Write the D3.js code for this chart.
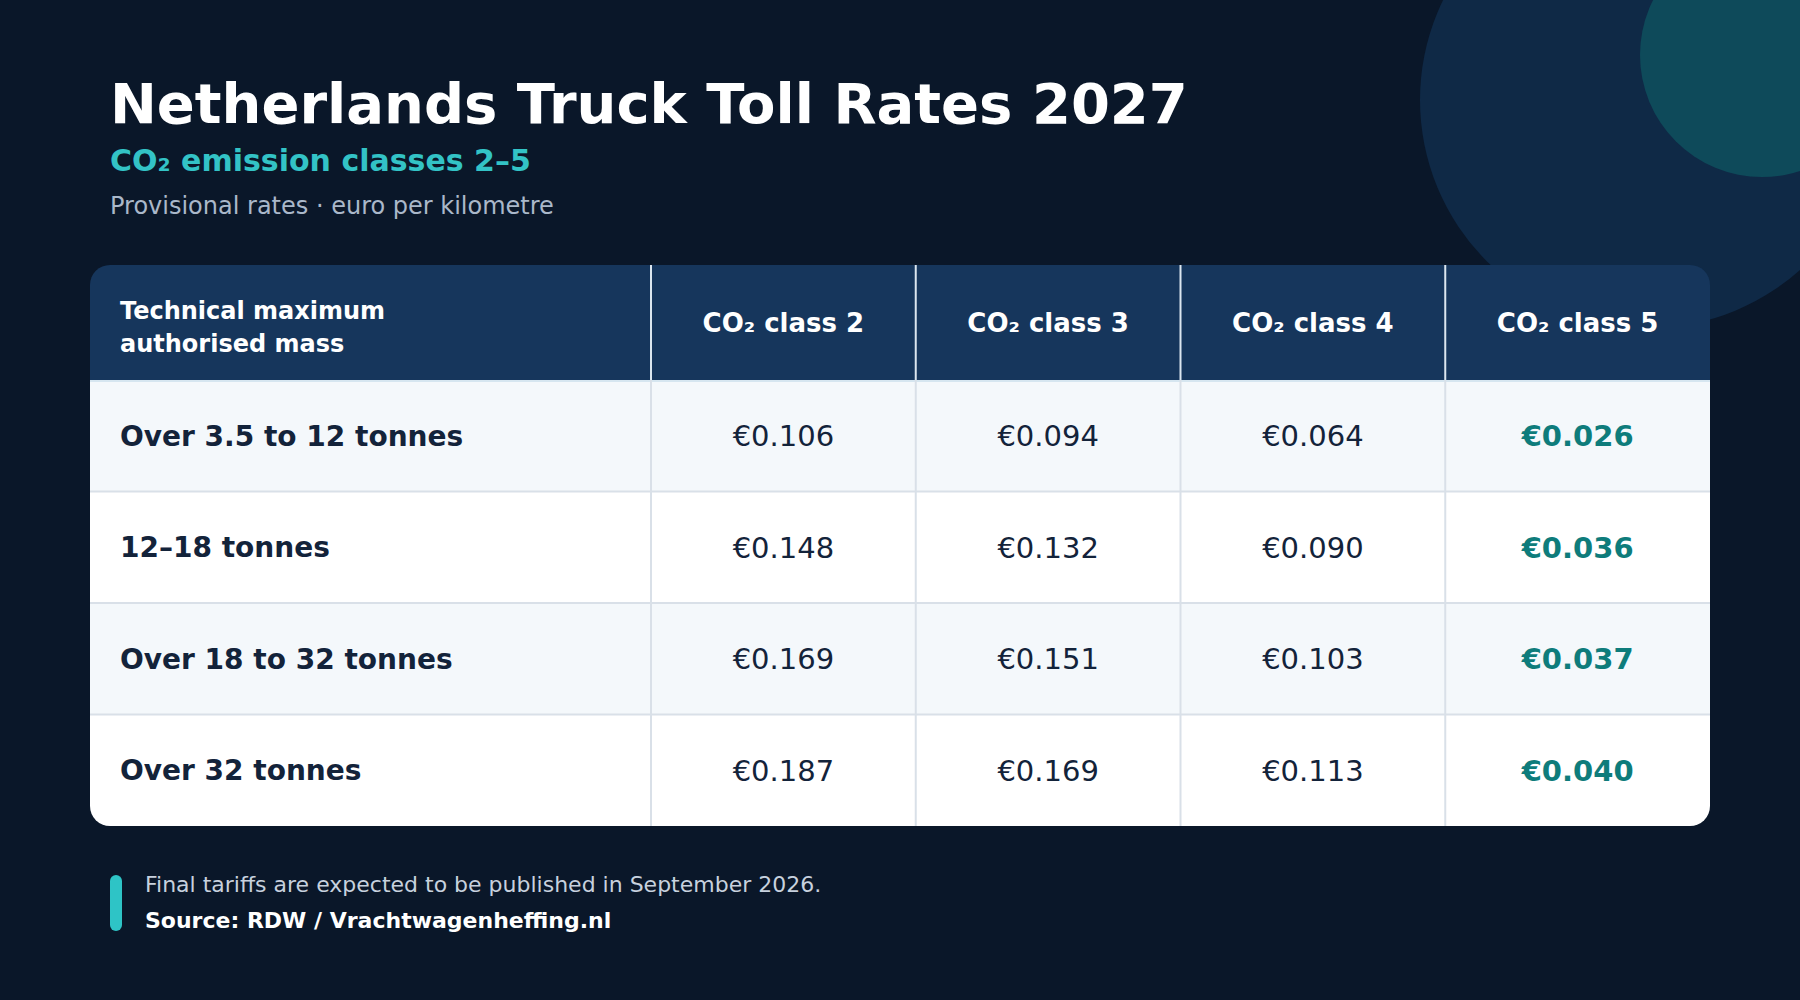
<!DOCTYPE html>
<html>
<head>
<meta charset="utf-8">
<script src="https://cdn.jsdelivr.net/npm/d3@7/dist/d3.min.js"></script>
<style>
  html, body { margin: 0; padding: 0; background: #0a1729; }
  svg { display: block; font-family: "DejaVu Sans", sans-serif; }
</style>
</head>
<body>
<div id="chart"></div>
<script>
// toll table values, euro per km
const massClasses = ['Over 3.5 to 12 tonnes', '12–18 tonnes', 'Over 18 to 32 tonnes', 'Over 32 tonnes']
const co2Classes = ['CO₂ class 2', 'CO₂ class 3', 'CO₂ class 4', 'CO₂ class 5']
const class2 = [0.106, 0.148, 0.169, 0.187]
const class3 = [0.094, 0.132, 0.151, 0.169]
const class4 = [0.064, 0.090, 0.103, 0.113]
const class5 = [0.026, 0.036, 0.037, 0.040]

const W = 1800, H = 1000

const svg = d3.select('#chart')
    .append('svg')
    .attr('width', W)
    .attr('height', H)

svg.append('rect').attr('width', W).attr('height', H).attr('fill', '#0a1729')

// decorative circles top right
svg.append('circle').attr('cx', 1648).attr('cy', 100).attr('r', 228).attr('fill', '#0f2946')
svg.append('circle').attr('cx', 1762).attr('cy', 55).attr('r', 122).attr('fill', '#0e4a5a')

// titles
svg.append('text')
    .attr('x', 110).attr('y', 123)
    .attr('fill', '#ffffff')
    .style('font-size', '56px').style('font-weight', 'bold')
    .text('Netherlands Truck Toll Rates 2027')

svg.append('text')
    .attr('x', 110).attr('y', 171)
    .attr('fill', '#33c3c6')
    .style('font-size', '30px').style('font-weight', 'bold')
    .text('CO₂ emission classes 2–5')

svg.append('text')
    .attr('x', 110).attr('y', 214)
    .attr('fill', '#aab8ca')
    .style('font-size', '24px')
    .text('Provisional rates · euro per kilometre')

// table geometry
const tx = 90, ty = 265, tw = 1620, headH = 115, rowH = 111.5
const firstW = 561
const th = headH + rowH * massClasses.length

const rows = massClasses.map((m, i) => ({
    mass: m,
    values: [class2[i], class3[i], class4[i], class5[i]]
}))

const x = d3.scaleBand()
    .domain(co2Classes)
    .range([tx + firstW, tx + tw])

const y = d3.scaleBand()
    .domain(massClasses)
    .range([ty + headH, ty + th])

const fmt = d3.format('.3f')

svg.append('clipPath').attr('id', 'tclip')
    .append('rect')
    .attr('x', tx).attr('y', ty).attr('width', tw).attr('height', th).attr('rx', 20)

const tbl = svg.append('g').attr('clip-path', 'url(#tclip)')

// header band
tbl.append('rect')
    .attr('x', tx).attr('y', ty).attr('width', tw).attr('height', headH)
    .attr('fill', '#16365c')

// body rows
tbl.selectAll('rect.row')
    .data(rows)
    .enter()
    .append('rect')
    .attr('class', 'row')
    .attr('x', tx)
    .attr('y', (d) => y(d.mass))
    .attr('width', tw)
    .attr('height', y.bandwidth())
    .attr('fill', (d, i) => i % 2 === 0 ? '#f4f8fb' : '#ffffff')

// horizontal grid lines between rows
tbl.selectAll('line.hline')
    .data(massClasses.slice(1))
    .enter()
    .append('line')
    .attr('x1', tx).attr('x2', tx + tw)
    .attr('y1', (d) => y(d)).attr('y2', (d) => y(d))
    .attr('stroke', '#d9e0e8').attr('stroke-width', 2)

// line under the header
tbl.append('line')
    .attr('x1', tx).attr('x2', tx + tw)
    .attr('y1', ty + headH + 1).attr('y2', ty + headH + 1)
    .attr('stroke', '#d6e6f0').attr('stroke-width', 2)

// vertical dividers: light in the header, grey in the body
tbl.selectAll('line.vhead')
    .data(co2Classes)
    .enter()
    .append('line')
    .attr('x1', (d) => x(d)).attr('x2', (d) => x(d))
    .attr('y1', ty).attr('y2', ty + headH)
    .attr('stroke', '#dbe6ef').attr('stroke-width', 2)

tbl.selectAll('line.vbody')
    .data(co2Classes)
    .enter()
    .append('line')
    .attr('x1', (d) => x(d)).attr('x2', (d) => x(d))
    .attr('y1', ty + headH).attr('y2', ty + th)
    .attr('stroke', '#d9e0e8').attr('stroke-width', 2)

// header labels
const headLab = svg.append('text')
    .attr('x', tx + 30)
    .attr('fill', '#ffffff')
    .style('font-size', '24px').style('font-weight', 'bold')
headLab.append('tspan').attr('x', tx + 30).attr('y', 319).text('Technical maximum')
headLab.append('tspan').attr('x', tx + 30).attr('y', 352).text('authorised mass')

svg.selectAll('text.colhead')
    .data(co2Classes)
    .enter()
    .append('text')
    .attr('x', (d) => x(d) + x.bandwidth() / 2)
    .attr('y', ty + headH / 2)
    .attr('dy', '0.36em')
    .attr('text-anchor', 'middle')
    .attr('fill', '#ffffff')
    .style('font-size', '26px').style('font-weight', 'bold')
    .text((d) => d)

// row labels
svg.selectAll('text.rowlab')
    .data(rows)
    .enter()
    .append('text')
    .attr('x', tx + 30)
    .attr('y', (d) => y(d.mass) + y.bandwidth() / 2)
    .attr('dy', '0.36em')
    .attr('fill', '#13233a')
    .style('font-size', '28px').style('font-weight', 'bold')
    .text((d) => d.mass)

// values
rows.forEach((r) => {
    svg.selectAll(null)
        .data(r.values)
        .enter()
        .append('text')
        .attr('x', (d, j) => x(co2Classes[j]) + x.bandwidth() / 2)
        .attr('y', y(r.mass) + y.bandwidth() / 2)
        .attr('dy', '0.36em')
        .attr('text-anchor', 'middle')
        .attr('fill', (d, j) => j === 3 ? '#0e7c7b' : '#13233a')
        .style('font-size', '29px')
        .style('font-weight', (d, j) => j === 3 ? 'bold' : 'normal')
        .text((d) => '€' + fmt(d))
})

// footer
svg.append('rect')
    .attr('x', 110).attr('y', 875).attr('width', 12).attr('height', 56).attr('rx', 6)
    .attr('fill', '#2ec4c6')

svg.append('text')
    .attr('x', 145).attr('y', 892)
    .attr('fill', '#c7d1de')
    .style('font-size', '22px')
    .text('Final tariffs are expected to be published in September 2026.')

svg.append('text')
    .attr('x', 145).attr('y', 928)
    .attr('fill', '#ffffff')
    .style('font-size', '22px').style('font-weight', 'bold')
    .text('Source: RDW / Vrachtwagenheffing.nl')
</script>
</body>
</html>
